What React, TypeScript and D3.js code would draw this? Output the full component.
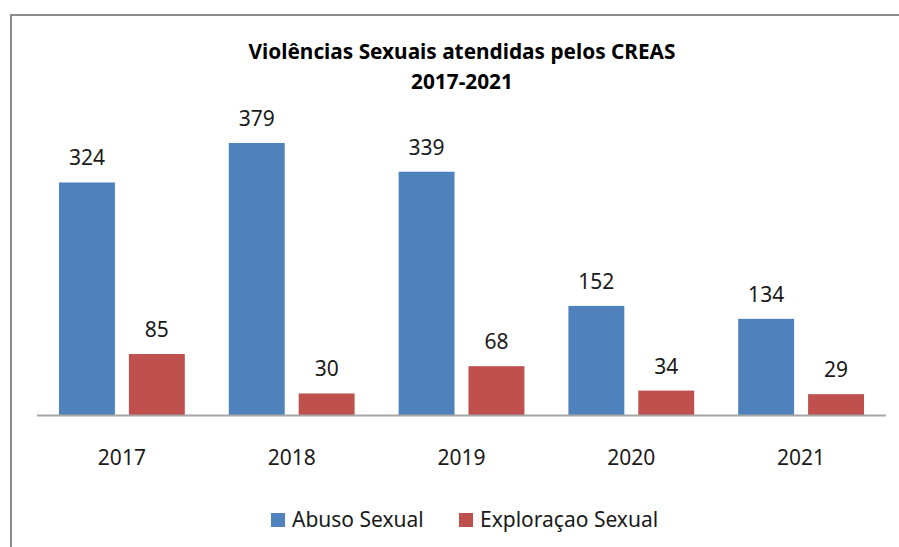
import React, { useRef, useEffect } from 'react'
import * as d3 from 'd3'

const years = ['2017', '2018', '2019', '2020', '2021']
const abuso = [324, 379, 339, 152, 134]
const exploracao = [85, 30, 68, 34, 29]
const seriesNames = ['Abuso Sexual', 'Exploraçao Sexual']
const seriesColors = ['#4F81BD', '#C0504D']

const FONT = '"Noto Sans", "Open Sans", sans-serif'

function App() {
  const svgRef = useRef(null)

  useEffect(() => {
    const svg = d3.select(svgRef.current)
    svg.selectAll('*').remove()

    const width = 899
    const height = 547
    const baseY = 415

    // frame (left + top gray border)
    svg
      .append('path')
      .attr('d', `M11,${height} L11,15 L${width},15`)
      .attr('fill', 'none')
      .attr('stroke', '#8c8c8c')
      .attr('stroke-width', 2)

    // title
    const title = svg
      .append('text')
      .attr('text-anchor', 'middle')
      .attr('font-family', FONT)
      .attr('font-weight', 'bold')
      .attr('font-size', 20.8)
      .attr('fill', '#000')
    title.append('tspan').attr('x', 462).attr('y', 59).text('Violências Sexuais atendidas pelos CREAS')
    title.append('tspan').attr('x', 462).attr('y', 89).text('2017-2021')

    //scales
    const x0 = d3.scaleBand().domain(years).range([37, 886])
    const x1 = d3
      .scaleBand()
      .domain(seriesNames)
      .range([22, x0.bandwidth() - 22])
      .paddingInner(0.2)
    const y = d3.scaleLinear().domain([0, 379]).range([baseY, 143])

    const data = years.map((yr, i) => ({ year: yr, values: [abuso[i], exploracao[i]] }))

    const groups = svg
      .append('g')
      .selectAll('g')
      .data(data)
      .join('g')
      .attr('transform', (d) => `translate(${x0(d.year)},0)`)

    groups
      .selectAll('rect')
      .data((d) => d.values.map((v, j) => ({ v, j })))
      .join('rect')
      .attr('x', (d) => x1(seriesNames[d.j]) as number)
      .attr('width', x1.bandwidth())
      .attr('y', (d) => y(d.v))
      .attr('height', (d) => baseY - y(d.v))
      .attr('fill', (d) => seriesColors[d.j])

    //value labels
    groups
      .selectAll('text')
      .data((d) => d.values.map((v, j) => ({ v, j })))
      .join('text')
      .attr('x', (d) => (x1(seriesNames[d.j]) as number) + x1.bandwidth() / 2)
      .attr('y', (d) => y(d.v) - 17)
      .attr('text-anchor', 'middle')
      .attr('font-family', FONT)
      .attr('font-size', 21)
      .attr('fill', '#1a1a1a')
      .text((d) => d.v)

    // x axis line
    svg
      .append('line')
      .attr('x1', 37)
      .attr('x2', 886)
      .attr('y1', baseY + 0.5)
      .attr('y2', baseY + 0.5)
      .attr('stroke', '#a6a6a6')
      .attr('stroke-width', 2)

    // axis labels
    svg
      .append('g')
      .selectAll('text')
      .data(years)
      .join('text')
      .attr('x', (d) => (x0(d) as number) + x0.bandwidth() / 2)
      .attr('y', 465)
      .attr('text-anchor', 'middle')
      .attr('font-family', FONT)
      .attr('font-size', 21)
      .attr('fill', '#1a1a1a')
      .text((d) => d)

    //legend
    const legendX = [271, 459]
    const legend = svg
      .append('g')
      .selectAll('g')
      .data(seriesNames)
      .join('g')
      .attr('transform', (d, i) => `translate(${legendX[i]},513)`)
    legend
      .append('rect')
      .attr('width', 14)
      .attr('height', 14)
      .attr('fill', (d, i) => seriesColors[i])
    legend
      .append('text')
      .attr('x', 21)
      .attr('y', 14)
      .attr('font-family', FONT)
      .attr('font-size', 21)
      .attr('fill', '#1a1a1a')
      .text((d) => d)
  }, [])

  return (
    <svg
      ref={svgRef}
      width={899}
      height={547}
      style={{ position: 'absolute', left: 0, top: 0, background: '#fff' }}
    />
  )
}

export default App
